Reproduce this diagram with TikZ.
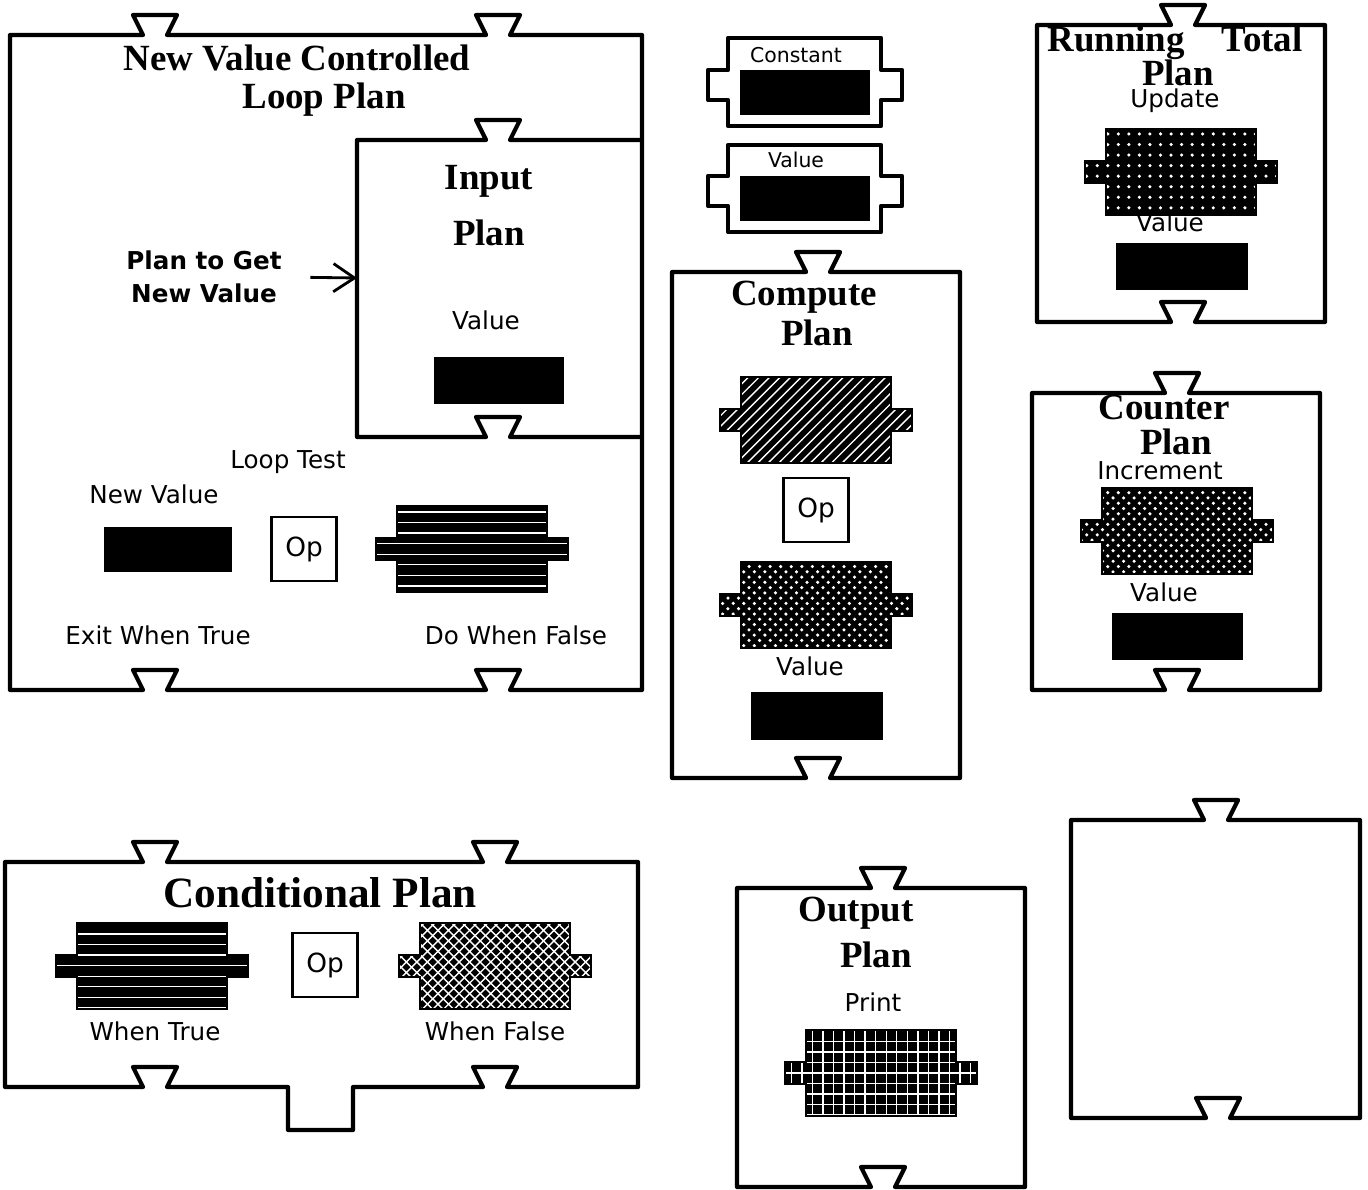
\documentclass[tikz,border=0pt]{standalone}
\usepackage{fontspec}
\setsansfont{DejaVu Sans}
\newfontfamily\titlefont{Liberation Serif}
\usetikzlibrary{patterns,arrows.meta}

% notch on an edge drawn left to right, and right to left
\newcommand{\notch}[2]{-- ({#1-12},#2) -- ({#1-22},{#2-20}) -- ({#1+22},{#2-20}) -- ({#1+12},#2)}
\newcommand{\notchback}[2]{-- ({#1+12},#2) -- ({#1+22},{#2-20}) -- ({#1-22},{#2-20}) -- ({#1-12},#2)}
% shaded connector piece: centre x, centre y, pattern
\newcommand{\conn}[3]{\path[connpiece,pattern=#3] ({#1-75},{#2-43}) -- ({#1+75},{#2-43}) -- ({#1+75},{#2-11}) -- ({#1+96},{#2-11}) -- ({#1+96},{#2+11}) -- ({#1+75},{#2+11}) -- ({#1+75},{#2+43}) -- ({#1-75},{#2+43}) -- ({#1-75},{#2+11}) -- ({#1-96},{#2+11}) -- ({#1-96},{#2-11}) -- ({#1-75},{#2-11}) -- cycle;}

\begin{document}
\begin{tikzpicture}[x=0.01cm,y=-0.01cm,
  plan/.style={draw,line width=1.2pt,line join=round},
  connpiece/.style={preaction={fill=black},draw=black,line width=0.6pt,pattern color=white},
  title/.style={inner sep=0pt,font=\fontsize{10.5}{12}\selectfont\titlefont\bfseries},
  lbl/.style={inner sep=0pt,font=\fontsize{7}{8.4}\selectfont\sffamily},
  small/.style={inner sep=0pt,font=\fontsize{5.8}{7}\selectfont\sffamily},
  opbox/.style={draw,line width=0.8pt,minimum width=0.65cm,minimum height=0.64cm,inner sep=0pt,font=\fontsize{7.5}{9}\selectfont\sffamily}]
\useasboundingbox (0,0) rectangle (1368,1189);

% new value controlled loop plan
\draw[plan] (10,690) -- (10,35) \notch{155}{35} \notch{498}{35} -- (642,35) -- (642,690) \notchback{498}{690} \notchback{155}{690} -- cycle;
\node[title] (looptitle) at (297,58) {New Value Controlled};
\node[title] (looptitle2) at (324,100) {Loop Plan};
% input plan inside it
\draw[plan] (642,140) \notchback{498}{140} -- (357,140) -- (357,437) \notch{498}{437} -- (642,437);
\node[title] (intitle) at (489,181) {Input};
\node[title] (intitle2) at (489,233) {Plan};
\node[lbl] (invalue) at (486,320) {Value};
\fill (434,357) rectangle (564,404);
\node[lbl,font=\fontsize{7}{9.4}\selectfont\sffamily\bfseries,align=center] (getlbl) at (204,277) {Plan to Get\\New Value};
\coordinate (inedge) at (357,278);
\draw[line width=0.8pt,-{Straight Barb[length=6pt,width=8pt]},shorten <=8pt] (getlbl.east) -- (inedge);
\node[lbl] (looptest) at (288,462) {Loop Test};
\node[lbl] (newval) at (154,494) {New Value};
\fill (104,527) rectangle (232,572);
\node[opbox] (loopop) at (304,549) {Op};
\conn{472}{549}{horizontal lines}
\node[lbl] (exitlbl) at (158,635) {Exit When True};
\node[lbl] (dolbl) at (516,635) {Do When False};

% constant and value pieces
\draw[plan] (728,38) -- (881,38) -- (881,70) -- (902,70) -- (902,100) -- (881,100) -- (881,126) -- (728,126) -- (728,100) -- (708,100) -- (708,70) -- (728,70) -- cycle;
\node[small] (constlbl) at (796,55) {Constant};
\fill (740,70) rectangle (870,115);
\draw[plan] (728,145) -- (881,145) -- (881,176) -- (902,176) -- (902,206) -- (881,206) -- (881,232) -- (728,232) -- (728,206) -- (708,206) -- (708,176) -- (728,176) -- cycle;
\node[small] (vallbl) at (796,160) {Value};
\fill (740,176) rectangle (870,221);

% compute plan
\draw[plan] (672,778) -- (672,272) \notch{818}{272} -- (960,272) -- (960,778) \notchback{818}{778} -- cycle;
\node[title] (comptitle) at (804,297) {Compute};
\node[title] (comptitle2) at (817,333) {Plan};
\conn{816}{420}{north east lines}
\node[opbox] (compop) at (816,510) {Op};
\conn{816}{605}{crosshatch dots}
\node[lbl] (compval) at (810,666) {Value};
\fill (751,692) rectangle (883,740);

% running total plan
\draw[plan] (1037,322) -- (1037,25) \notch{1183}{25} -- (1325,25) -- (1325,322) \notchback{1183}{322} -- cycle;
\node[title] (runtitle) at (1175,43) {Running\quad Total};
\node[title] (runtitle2) at (1178,73) {Plan};
\node[lbl] (update) at (1175,101) {Update};
\node[lbl] (runval) at (1170,222) {Value};
\conn{1181}{172}{dots}
\fill (1116,243) rectangle (1248,290);

% counter plan
\draw[plan] (1032,690) -- (1032,393) \notch{1177}{393} -- (1320,393) -- (1320,690) \notchback{1177}{690} -- cycle;
\node[title,align=center,font=\fontsize{10.5}{9.8}\selectfont\titlefont\bfseries] (counttitle) at (1164,425) {Counter\\\hspace*{0.24cm}Plan};
\node[lbl] (incr) at (1160,471) {Increment};
\conn{1177}{531}{crosshatch dots}
\node[lbl] (countval) at (1164,592) {Value};
\fill (1112,613) rectangle (1243,660);

% conditional plan
\draw[plan] (5,1087) -- (5,862) \notch{155}{862} \notch{495}{862} -- (638,862) -- (638,1087) \notchback{495}{1087} -- (353,1087) -- (353,1130) -- (288,1130) -- (288,1087) \notchback{155}{1087} -- cycle;
\node[title,font=\fontsize{12.3}{14}\selectfont\titlefont\bfseries] (condtitle) at (320,893) {Conditional Plan};
\conn{152}{966}{horizontal lines}
\node[opbox] (condop) at (325,965) {Op};
\conn{495}{966}{crosshatch}
\node[lbl] (truelbl) at (155,1031) {When True};
\node[lbl] (falselbl) at (495,1031) {When False};

% output plan
\draw[plan] (737,1187) -- (737,888) \notch{883}{888} -- (1025,888) -- (1025,1187) \notchback{883}{1187} -- cycle;
\node[title] (outtitle) at (856,913) {Output};
\node[title] (outtitle2) at (876,955) {Plan};
\node[lbl] (printlbl) at (873,1002) {Print};
\conn{881}{1073}{grid}

% empty plan
\draw[plan] (1071,1118) -- (1071,820) \notch{1216}{820} -- (1360,820) -- (1360,1118) \notchback{1218}{1118} -- cycle;
\end{tikzpicture}
\end{document}
